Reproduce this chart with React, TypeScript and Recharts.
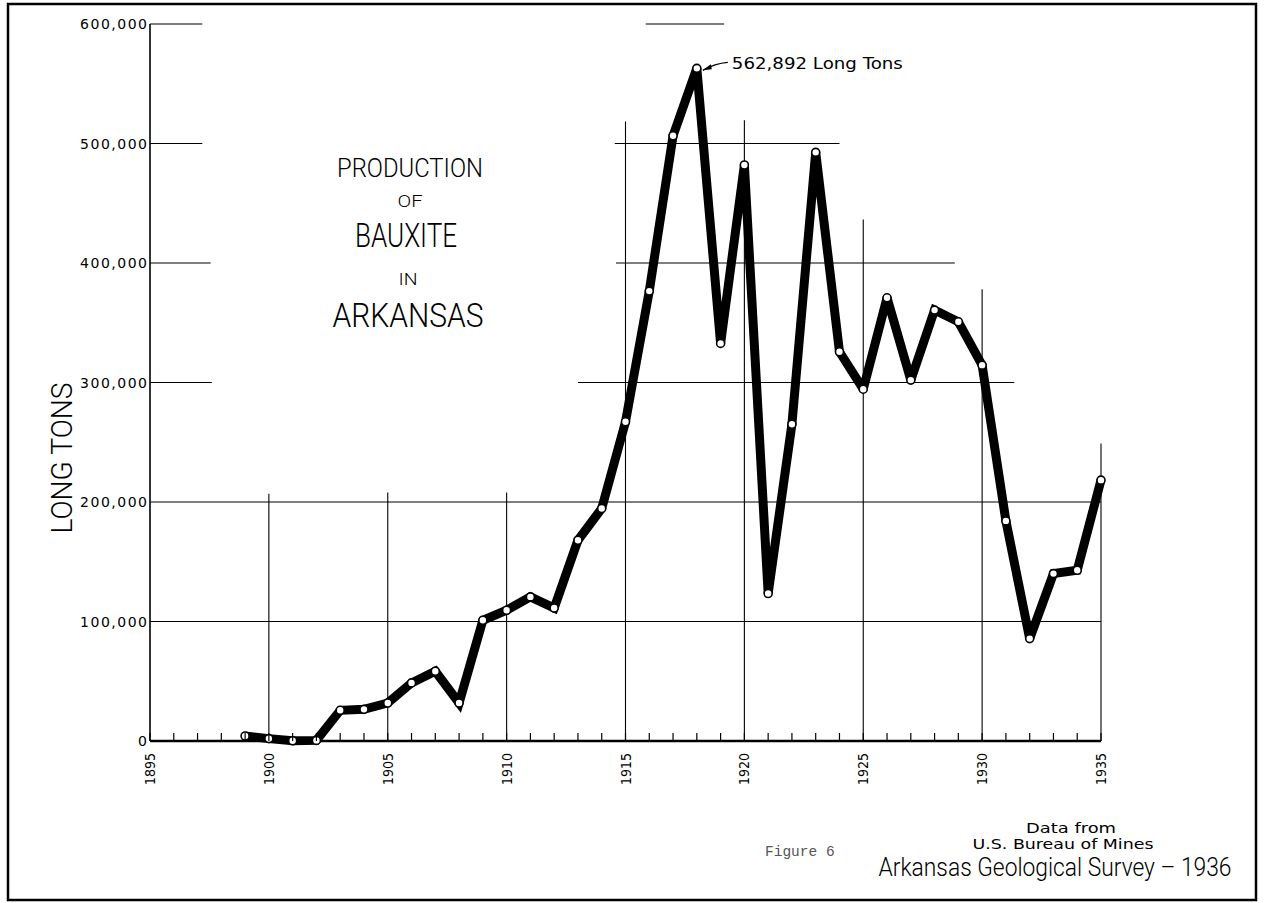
import React from "react";
import {
  LineChart,
  Line,
  XAxis,
  YAxis,
  ReferenceLine,
  ReferenceDot,
} from "recharts";

// production of bauxite in Arkansas, long tons
const years = [
  1899, 1900, 1901, 1902, 1903, 1904, 1905, 1906, 1907, 1908, 1909, 1910,
  1911, 1912, 1913, 1914, 1915, 1916, 1917, 1918, 1919, 1920, 1921, 1922,
  1923, 1924, 1925, 1926, 1927, 1928, 1929, 1930, 1931, 1932, 1933, 1934,
  1935,
];
const tons = [
  4200, 2000, 200, 500, 25700, 26500, 31800, 48600, 58400, 31800, 101000,
  109400, 120600, 111300, 168000, 194600, 267100, 376500, 506500, 562892,
  332700, 482000, 123400, 265100, 492600, 325700, 294400, 370900, 302000,
  360600, 350800, 314500, 184200, 85700, 140100, 142900, 218300,
];

const xTicks = [
  1895, 1896, 1897, 1898, 1899, 1900, 1901, 1902, 1903, 1904, 1905, 1906,
  1907, 1908, 1909, 1910, 1911, 1912, 1913, 1914, 1915, 1916, 1917, 1918,
  1919, 1920, 1921, 1922, 1923, 1924, 1925, 1926, 1927, 1928, 1929, 1930,
  1931, 1932, 1933, 1934, 1935,
];
const yTicks = [0, 100000, 200000, 300000, 400000, 500000, 600000];

const peakYear = 1918;
const peakTons = 562892;

// the drafted grid is only partly ruled: [value, from, to]
const hRules: [number, number, number][] = [
  [600000, 1895, 1897.2],
  [500000, 1895, 1897.2],
  [400000, 1895, 1897.55],
  [300000, 1895, 1897.6],
  [200000, 1895, 1935],
  [100000, 1895, 1935],
  [600000, 1915.85, 1919.15],
  [500000, 1914.55, 1924.0],
  [400000, 1914.6, 1928.85],
  [300000, 1913.0, 1931.35],
];
// vertical rules: [year, top value]
const vRules: [number, number][] = [
  [1900, 207000],
  [1905, 208000],
  [1910, 208000],
  [1915, 518500],
  [1920, 519500],
  [1925, 436500],
  [1930, 378000],
  [1935, 249000],
];

const data = years.map((year, i) => ({ year, tons: tons[i] }));

function YearTick(props: any) {
  const { x, y, payload } = props;
  const v = payload.value as number;
  return (
    <g>
      <line x1={x} y1={y} x2={x} y2={y - 8} stroke="#000" strokeWidth={1.2} />
      {v % 5 === 0 && (
        <text
          transform={`translate(${x},${y + 28}) rotate(-90)`}
          textAnchor="middle"
          dominantBaseline="central"
          fontFamily="'DejaVu Sans', sans-serif"
          fontSize={14}
          textLength={32}
          lengthAdjust="spacingAndGlyphs"
          fill="#000"
        >
          {v}
        </text>
      )}
    </g>
  );
}

function TonsTick(props: any) {
  const { y, payload } = props;
  const v = payload.value as number;
  return (
    <text
      x={148.5}
      y={y}
      textAnchor="end"
      dominantBaseline="central"
      fontFamily="'DejaVu Sans', sans-serif"
      fontSize={14}
      letterSpacing={1.5}
      fill="#000"
    >
      {v.toLocaleString("en-US")}
    </text>
  );
}

function PeakNote(props: any) {
  const { cx, cy } = props;
  const tipX = cx + 6;
  const tipY = cy + 2;
  return (
    <g>
      <path
        d={`M${cx + 31},${cy - 6} Q${cx + 18},${cy - 5} ${tipX},${tipY}`}
        fill="none"
        stroke="#000"
        strokeWidth={1.3}
      />
      <path
        d={`M${tipX},${tipY} L${tipX + 8},${tipY - 6} L${tipX + 9},${tipY - 1} Z`}
        fill="#000"
      />
      <text
        x={cx + 35}
        y={cy + 1}
        fontFamily="'DejaVu Sans', sans-serif"
        fontSize={16}
        textLength={171}
        lengthAdjust="spacingAndGlyphs"
        fill="#000"
      >
        562,892  Long Tons
      </text>
    </g>
  );
}

const light = "Roboto, 'Open Sans', sans-serif";

export default function App() {
  return (
    <div
      style={{
        position: "absolute",
        left: 0,
        top: 0,
        width: 1265,
        height: 903,
        background: "#fff",
      }}
    >
      <LineChart
        width={1265}
        height={903}
        data={data}
        margin={{ top: 24, right: 164, bottom: 0, left: 0 }}
      >
        <XAxis
          dataKey="year"
          type="number"
          domain={[1895, 1935]}
          ticks={xTicks}
          interval={0}
          height={162}
          tickSize={0}
          tickMargin={0}
          tickLine={false}
          axisLine={{ stroke: "#000", strokeWidth: 2.5 }}
          tick={<YearTick />}
        />
        <YAxis
          type="number"
          domain={[0, 600000]}
          ticks={yTicks}
          interval={0}
          width={150}
          tickSize={0}
          tickMargin={0}
          tickLine={false}
          axisLine={{ stroke: "#000", strokeWidth: 1.6 }}
          tick={<TonsTick />}
        />
        {hRules.map(([v, a, b], i) => (
          <ReferenceLine
            key={`h${i}`}
            segment={[
              { x: a, y: v },
              { x: b, y: v },
            ]}
            stroke="#000"
            strokeWidth={1.1}
            ifOverflow="visible"
          />
        ))}
        {vRules.map(([yr, top], i) => (
          <ReferenceLine
            key={`v${i}`}
            segment={[
              { x: yr, y: 0 },
              { x: yr, y: top },
            ]}
            stroke="#000"
            strokeWidth={1.1}
            ifOverflow="visible"
          />
        ))}
        <Line
          type="linear"
          dataKey="tons"
          stroke="#000"
          strokeWidth={9}
          strokeMiterlimit={2.5}
          dot={{ r: 4, fill: "#fff", stroke: "#000", strokeWidth: 1.6 }}
          activeDot={false}
          isAnimationActive={false}
        />
        <ReferenceDot
          x={peakYear}
          y={peakTons}
          r={0}
          ifOverflow="visible"
          shape={(p: any) => <PeakNote {...p} />}
        />
      </LineChart>

      <svg
        width={1265}
        height={903}
        style={{ position: "absolute", left: 0, top: 0, pointerEvents: "none" }}
      >
        <rect
          x={8}
          y={4}
          width={1248}
          height={896}
          fill="none"
          stroke="#000"
          strokeWidth={2.5}
        />
        <g fontFamily={light} fontWeight={300} fill="#000" textAnchor="middle">
          <text x={410} y={177} fontSize={25} textLength={146} lengthAdjust="spacingAndGlyphs">
            PRODUCTION
          </text>
          <text x={410} y={207} fontSize={17} textLength={25} lengthAdjust="spacingAndGlyphs">
            OF
          </text>
          <text x={406} y={247} fontSize={34} textLength={102} lengthAdjust="spacingAndGlyphs">
            BAUXITE
          </text>
          <text x={408} y={285} fontSize={17} textLength={19} lengthAdjust="spacingAndGlyphs">
            IN
          </text>
          <text x={408} y={327} fontSize={34} textLength={151} lengthAdjust="spacingAndGlyphs">
            ARKANSAS
          </text>
          <text
            transform="translate(72,458) rotate(-90)"
            fontSize={30}
            textLength={151}
            lengthAdjust="spacingAndGlyphs"
          >
            LONG TONS
          </text>
          <text x={1055} y={876} fontSize={26} textLength={353} lengthAdjust="spacingAndGlyphs">
            Arkansas Geological  Survey – 1936
          </text>
        </g>
        <g fontFamily="'DejaVu Sans', sans-serif" fill="#000" textAnchor="middle" fontSize={14}>
          <text x={1071} y={833} textLength={90} lengthAdjust="spacingAndGlyphs">
            Data from
          </text>
          <text x={1063} y={849} textLength={181} lengthAdjust="spacingAndGlyphs">
            U.S. Bureau of Mines
          </text>
        </g>
        <text
          x={765}
          y={856}
          fontFamily="'Liberation Mono', monospace"
          fontSize={14.5}
          fill="#555"
        >
          Figure 6
        </text>
      </svg>
    </div>
  );
}
